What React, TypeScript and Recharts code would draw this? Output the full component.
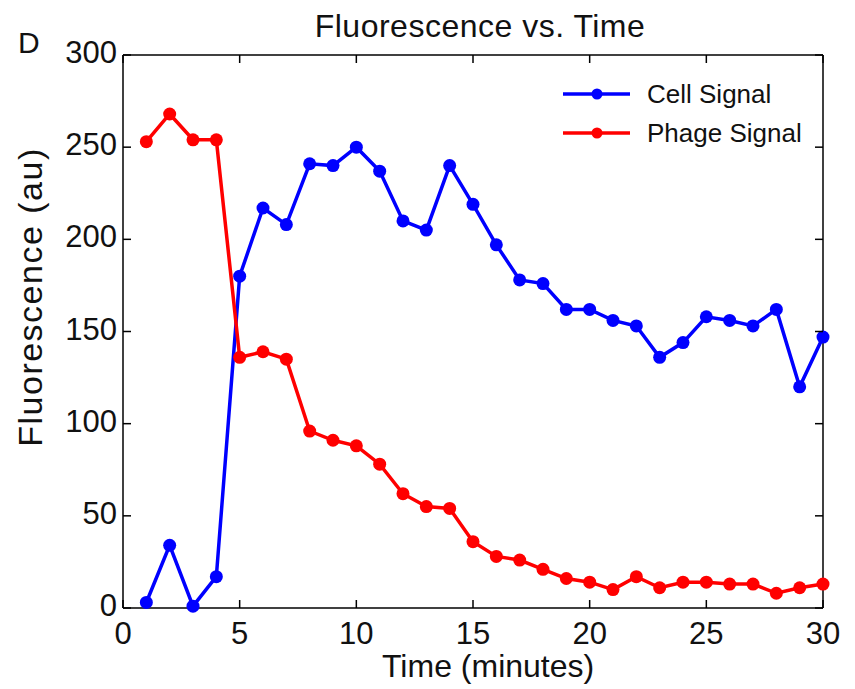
import React from 'react';
import { LineChart, Line, XAxis, YAxis } from 'recharts';

const minutes = [1, 2, 3, 4, 5, 6, 7, 8, 9, 10, 11, 12, 13, 14, 15, 16, 17, 18, 19, 20, 21, 22, 23, 24, 25, 26, 27, 28, 29, 30];
const cellSignal = [3, 34, 1, 17, 180, 217, 208, 241, 240, 250, 237, 210, 205, 240, 219, 197, 178, 176, 162, 162, 156, 153, 136, 144, 158, 156, 153, 162, 120, 147];
const phageSignal = [253, 268, 254, 254, 136, 139, 135, 96, 91, 88, 78, 62, 55, 54, 36, 28, 26, 21, 16, 14, 10, 17, 11, 14, 14, 13, 13, 8, 11, 13];
const xTicks = [0, 5, 10, 15, 20, 25, 30];
const yTicks = [0, 50, 100, 150, 200, 250, 300];

const BLUE = '#0000ff';
const RED = '#ff0000';
const FONT = '"Liberation Sans", Arial, sans-serif';
const TICK_LEN = 8;

const data = minutes.map((t, i) => ({ t, cell: cellSignal[i], phage: phageSignal[i] }));

const BottomTick = (props: any) => {
  const { x, y, payload } = props;
  return (
    <g>
      <line x1={x} y1={y} x2={x} y2={y - TICK_LEN} stroke="#000" strokeWidth={1.5} />
      <text x={x} y={y + 36} textAnchor="middle" fontFamily={FONT} fontSize={31} fill="#111">
        {payload.value}
      </text>
    </g>
  );
};

const LeftTick = (props: any) => {
  const { x, y, payload } = props;
  return (
    <g>
      <line x1={x} y1={y} x2={x + TICK_LEN} y2={y} stroke="#000" strokeWidth={1.5} />
      <text x={x - 6} y={y + 8} textAnchor="end" fontFamily={FONT} fontSize={31} fill="#111">
        {payload.value}
      </text>
    </g>
  );
};

// frame axes: tick marks only, pointing into the plot
const TopTick = (props: any) => {
  const { x } = props;
  return <line x1={x} y1={55} x2={x} y2={55 + TICK_LEN} stroke="#000" strokeWidth={1.5} />;
};

const RightTick = (props: any) => {
  const { y } = props;
  return <line x1={823} y1={y} x2={823 - TICK_LEN} y2={y} stroke="#000" strokeWidth={1.5} />;
};

const LegendRow = ({ color, label, top }: { color: string; label: string; top: number }) => (
  <div style={{ position: 'absolute', left: 561, top, height: 30, display: 'flex', alignItems: 'center' }}>
    <svg width={72} height={20}>
      <line x1={2} y1={10} x2={69} y2={10} stroke={color} strokeWidth={3.5} />
      <circle cx={36} cy={10} r={5.5} fill={color} />
    </svg>
    <span style={{ marginLeft: 14, fontFamily: FONT, fontSize: 26, color: '#111', whiteSpace: 'nowrap' }}>{label}</span>
  </div>
);

export default function App() {
  return (
    <div style={{ position: 'absolute', left: 0, top: 0, width: 855, height: 689, background: '#fff' }}>
      <LineChart width={855} height={689} data={data} margin={{ top: 54, right: 31, bottom: 0, left: 0 }}>
        <XAxis
          dataKey="t"
          type="number"
          domain={[0, 30]}
          ticks={xTicks}
          height={81}
          tickSize={0}
          tickMargin={0}
          axisLine={{ stroke: '#000', strokeWidth: 1.5 }}
          tickLine={false}
          tick={<BottomTick />}
        />
        <XAxis
          xAxisId="top"
          dataKey="t"
          orientation="top"
          type="number"
          domain={[0, 30]}
          ticks={xTicks}
          height={1}
          tickSize={0}
          tickMargin={0}
          axisLine={{ stroke: '#000', strokeWidth: 1.5 }}
          tickLine={false}
          tick={<TopTick />}
        />
        <YAxis
          type="number"
          domain={[0, 300]}
          ticks={yTicks}
          width={123}
          tickSize={0}
          tickMargin={0}
          axisLine={{ stroke: '#000', strokeWidth: 1.5 }}
          tickLine={false}
          tick={<LeftTick />}
        />
        <YAxis
          yAxisId="right"
          orientation="right"
          type="number"
          domain={[0, 300]}
          ticks={yTicks}
          width={1}
          tickSize={0}
          tickMargin={0}
          axisLine={{ stroke: '#000', strokeWidth: 1.5 }}
          tickLine={false}
          tick={<RightTick />}
        />
        {/* invisible series bound to the frame axes */}
        <Line
          xAxisId="top"
          yAxisId="right"
          dataKey="cell"
          stroke="none"
          dot={false}
          activeDot={false}
          legendType="none"
          isAnimationActive={false}
        />
        <Line
          dataKey="cell"
          name="Cell Signal"
          stroke={BLUE}
          strokeWidth={3.5}
          dot={{ r: 6.5, fill: BLUE, stroke: BLUE, strokeWidth: 0 }}
          isAnimationActive={false}
        />
        <Line
          dataKey="phage"
          name="Phage Signal"
          stroke={RED}
          strokeWidth={3.5}
          dot={{ r: 6.5, fill: RED, stroke: RED, strokeWidth: 0 }}
          isAnimationActive={false}
        />
      </LineChart>

      <div style={{ position: 'absolute', left: 0, width: 960, top: 8, textAlign: 'center', fontFamily: FONT, fontSize: 32, color: '#111', letterSpacing: 0.5 }}>
        Fluorescence vs. Time
      </div>
      <div style={{ position: 'absolute', left: 18, top: 26, fontFamily: FONT, fontSize: 30, color: '#111' }}>D</div>
      <div
        style={{
          position: 'absolute',
          left: 30,
          top: 297,
          transform: 'translate(-50%, -50%) rotate(-90deg)',
          fontFamily: FONT,
          fontSize: 34,
          letterSpacing: 1.5,
          color: '#111',
          whiteSpace: 'nowrap',
        }}
      >
        Fluorescence (au)
      </div>
      <div style={{ position: 'absolute', left: 382, top: 647, fontFamily: FONT, fontSize: 32, lineHeight: '38px', color: '#111', whiteSpace: 'nowrap' }}>
        Time (minutes)
      </div>
      <LegendRow color={BLUE} label="Cell Signal" top={79} />
      <LegendRow color={RED} label="Phage Signal" top={118} />
    </div>
  );
}
